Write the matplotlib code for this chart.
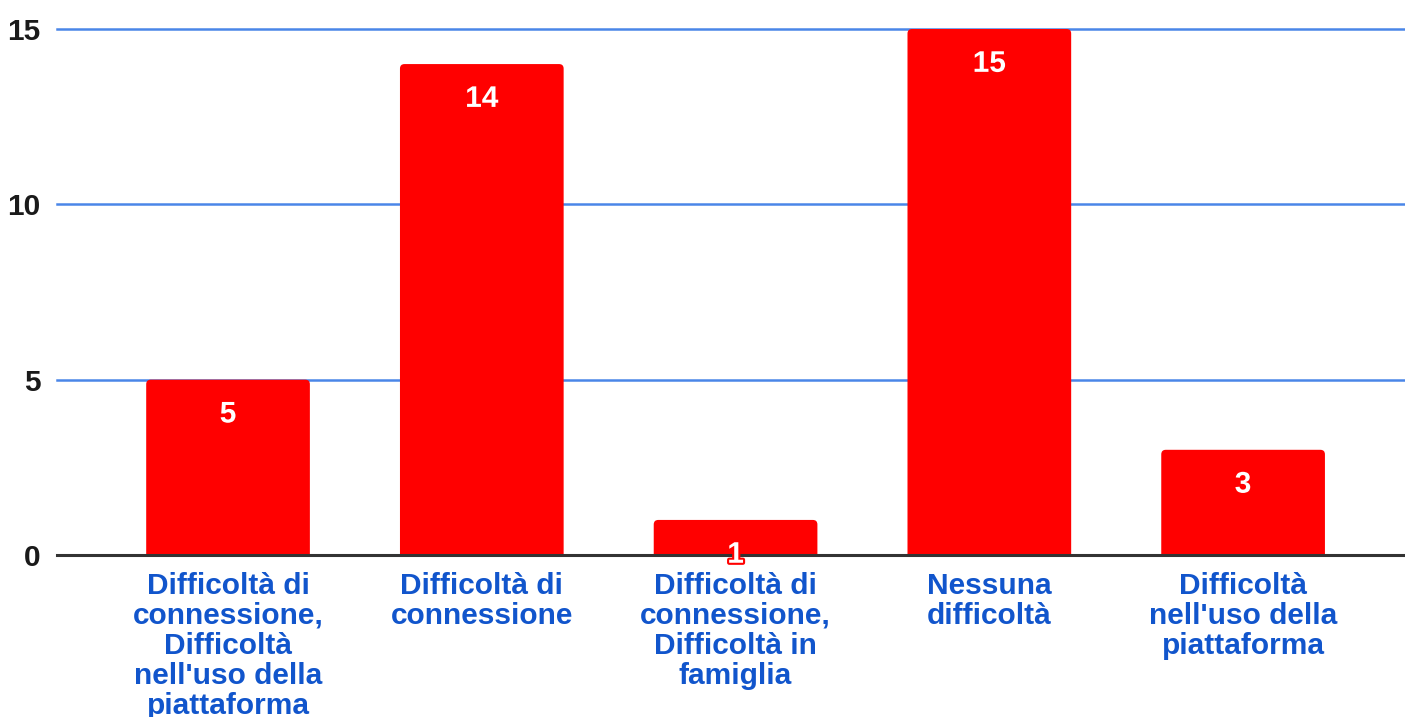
import matplotlib
matplotlib.use("Agg")
import matplotlib.pyplot as plt
import matplotlib.patheffects as pe
from matplotlib.patches import FancyBboxPatch

categories = [
    "Difficoltà di\nconnessione,\nDifficoltà\nnell'uso della\npiattaforma",
    "Difficoltà di\nconnessione",
    "Difficoltà di\nconnessione,\nDifficoltà in\nfamiglia",
    "Nessuna\ndifficoltà",
    "Difficoltà\nnell'uso della\npiattaforma",
]
values = [5, 14, 1, 15, 3]
yticks = [0, 5, 10, 15]

plt.rcParams['font.family'] = ['Liberation Sans', 'DejaVu Sans']

W, H = 1405, 717
fig = plt.figure(figsize=(W / 100, H / 100), dpi=100)
ax = fig.add_axes([57 / W, (H - 555) / H, (W - 57) / W, (555 - 29) / H])

x = list(range(len(values)))
bars = ax.bar(x, values, width=0.645, color='none', edgecolor='none', zorder=3)

# rounded-top bars
xunit_px = 253.75
yunit_px = (555 - 29) / 15
aspect = xunit_px / yunit_px
for r in bars:
    x0, w, h = r.get_x(), r.get_width(), r.get_height()
    p = FancyBboxPatch((x0, -0.3), w, h + 0.3,
                       boxstyle="round,pad=0,rounding_size=0.018",
                       mutation_aspect=aspect,
                       facecolor='#ff0000', edgecolor='none', zorder=3,
                       clip_on=True)
    ax.add_patch(p)

ax.set_xlim(-0.674, 4.638)
ax.set_ylim(0, 15)
ax.set_yticks(yticks)
ax.set_yticklabels([str(t) for t in yticks], fontsize=21.5, fontweight='bold', color='#1a1a1a')
ax.tick_params(axis='y', length=0, pad=12)
ax.set_xticks(x)
ax.set_xticklabels(categories, fontsize=21.5, fontweight='bold', color='#1155cc',
                   linespacing=1.1, va='top')
ax.tick_params(axis='x', length=0, pad=12)

for s in ax.spines.values():
    s.set_visible(False)
for t in yticks[1:]:
    ax.axhline(t, color='#4a86e8', linewidth=1.8, zorder=1, clip_on=False)
ax.axhline(0, color='#333333', linewidth=2.2, zorder=4, clip_on=False)

for xi, v in zip(x, values):
    ax.annotate(str(v), (xi, v), xytext=(0, -15), textcoords='offset points',
                ha='center', va='top', fontsize=21.5, fontweight='bold', color='white',
                zorder=6,
                path_effects=[pe.withStroke(linewidth=3, foreground='#ff0000')])

fig.savefig('out.png', dpi=100, facecolor='white')
